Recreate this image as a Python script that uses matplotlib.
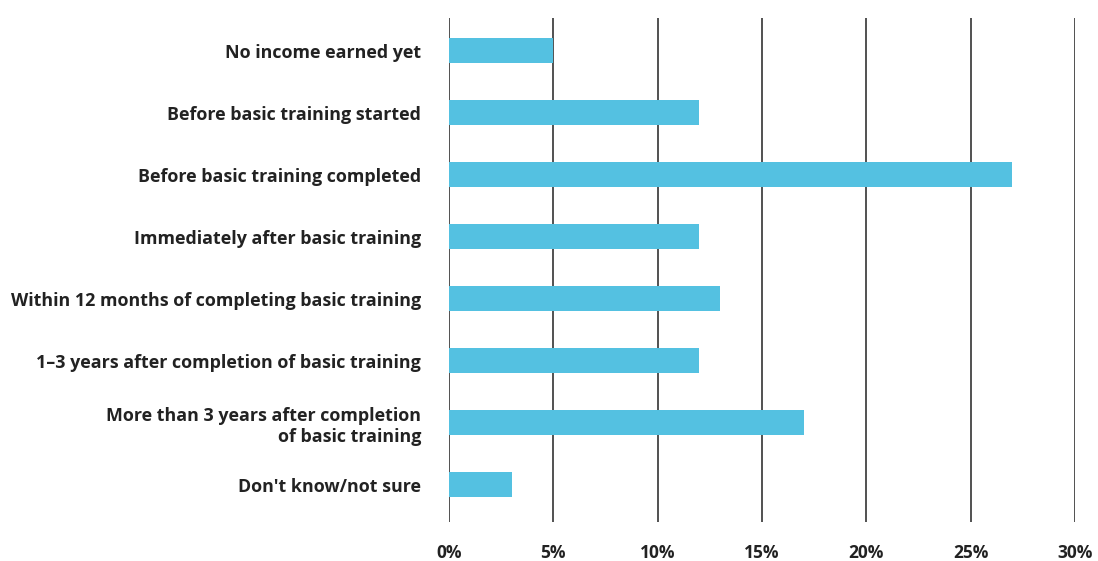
import matplotlib.pyplot as plt

categories = [
    "No income earned yet",
    "Before basic training started",
    "Before basic training completed",
    "Immediately after basic training",
    "Within 12 months of completing basic training",
    "1\u20133 years after completion of basic training",
    "More than 3 years after completion\nof basic training",
    "Don't know/not sure",
]
values = [5, 12, 27, 12, 13, 12, 17, 3]
ticks = [0, 5, 10, 15, 20, 25, 30]

plt.rcParams["font.family"] = ["Open Sans", "DejaVu Sans"]

fig = plt.figure(figsize=(10.98, 5.61), dpi=100)
ax = fig.add_axes([449 / 1098, 1 - 522 / 561, (1075 - 449) / 1098, (522 - 18) / 561])

pos = list(range(len(categories)))
ax.barh(pos, values, height=0.4, color="#54C1E1", zorder=2)

ax.set_xlim(0, 30)
ax.set_ylim(7.6, -0.53)
ax.set_xticks(ticks)
ax.set_xticklabels(["%d%%" % t for t in ticks], fontsize=12.5, fontweight="bold", color="#222222")
ax.set_yticks(pos)
ax.set_yticklabels(categories, fontsize=12.9, fontweight="bold", color="#222222", linespacing=1.2)
ax.tick_params(axis="both", length=0)
ax.tick_params(axis="y", pad=20)
ax.tick_params(axis="x", pad=16)
for t in ticks:
    ax.axvline(t, color="#333333", lw=1.2, zorder=1)
for s in ax.spines.values():
    s.set_visible(False)

fig.savefig("out.png", dpi=100)
